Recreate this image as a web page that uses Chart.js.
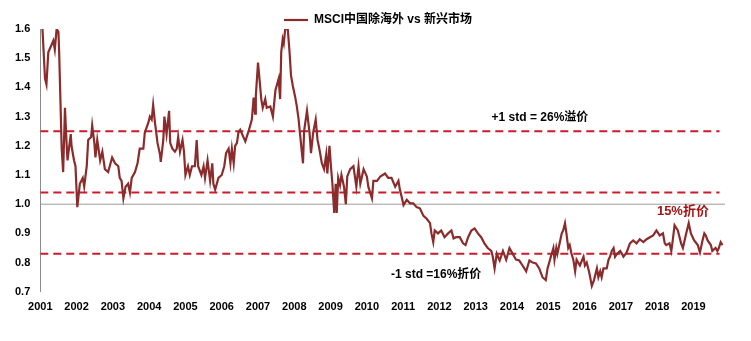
<!DOCTYPE html>
<html>
<head>
<meta charset="utf-8">
<script src="https://cdn.jsdelivr.net/npm/chart.js@4.4.1/dist/chart.umd.min.js"></script>
<style>
  html, body { margin: 0; padding: 0; background: #fff; }
  #wrap { width: 751px; height: 341px; }
</style>
</head>
<body>
<div id="wrap"><canvas id="premium-chart"></canvas></div>
<script>
// Data
const seriesName = 'MSCI中国除海外 vs 新兴市场';

const tickYears = [2001, 2002, 2003, 2004, 2005, 2006, 2007, 2008, 2009, 2010,
    2011, 2012, 2013, 2014, 2015, 2016, 2017, 2018, 2019];

const years = [
    2001.06, 2001.13, 2001.17, 2001.22, 2001.29, 2001.36, 2001.40, 2001.45, 2001.50, 2001.52,
    2001.59, 2001.63, 2001.68, 2001.72, 2001.75, 2001.84, 2001.86, 2001.93, 2001.97, 2002.02,
    2002.09, 2002.17, 2002.21, 2002.28, 2002.32, 2002.40, 2002.43, 2002.49, 2002.52, 2002.57,
    2002.65, 2002.71, 2002.78, 2002.87, 2002.98, 2003.06, 2003.15, 2003.19, 2003.24, 2003.29,
    2003.35, 2003.42, 2003.47, 2003.52, 2003.61, 2003.68, 2003.74, 2003.84, 2003.88, 2003.98,
    2004.02, 2004.07, 2004.11, 2004.16, 2004.23, 2004.30, 2004.32, 2004.39, 2004.42, 2004.48,
    2004.55, 2004.58, 2004.64, 2004.71, 2004.76, 2004.80, 2004.85, 2004.92, 2004.96, 2005.00,
    2005.07, 2005.12, 2005.18, 2005.26, 2005.31, 2005.35, 2005.44, 2005.50, 2005.54, 2005.61,
    2005.68, 2005.74, 2005.77, 2005.82, 2005.91, 2006.00, 2006.07, 2006.12, 2006.19, 2006.24,
    2006.28, 2006.33, 2006.37, 2006.42, 2006.46, 2006.51, 2006.65, 2006.74, 2006.83, 2006.88,
    2006.92, 2006.94, 2007.00, 2007.04, 2007.09, 2007.13, 2007.20, 2007.24, 2007.34, 2007.41,
    2007.48, 2007.57, 2007.61, 2007.64, 2007.68, 2007.71, 2007.75, 2007.82, 2007.87, 2007.91,
    2007.96, 2008.02, 2008.07, 2008.12, 2008.15, 2008.24, 2008.27, 2008.35, 2008.42, 2008.46,
    2008.52, 2008.59, 2008.64, 2008.69, 2008.76, 2008.82, 2008.88, 2008.91, 2008.97, 2009.01,
    2009.05, 2009.10, 2009.14, 2009.17, 2009.21, 2009.26, 2009.30, 2009.37, 2009.42, 2009.46,
    2009.54, 2009.63, 2009.71, 2009.77, 2009.82, 2009.91, 2010.00, 2010.04, 2010.14, 2010.18,
    2010.28, 2010.37, 2010.50, 2010.59, 2010.68, 2010.78, 2010.87, 2010.91, 2010.96, 2011.01,
    2011.10, 2011.19, 2011.28, 2011.37, 2011.46, 2011.56, 2011.65, 2011.74, 2011.78, 2011.83,
    2011.87, 2011.96, 2012.05, 2012.14, 2012.24, 2012.33, 2012.39, 2012.46, 2012.56, 2012.65,
    2012.72, 2012.79, 2012.88, 2012.97, 2013.06, 2013.15, 2013.24, 2013.33, 2013.43, 2013.47,
    2013.52, 2013.58, 2013.66, 2013.75, 2013.84, 2013.93, 2014.02, 2014.11, 2014.20, 2014.29,
    2014.39, 2014.48, 2014.57, 2014.66, 2014.75, 2014.84, 2014.93, 2014.98, 2015.07, 2015.14,
    2015.17, 2015.22, 2015.25, 2015.37, 2015.41, 2015.46, 2015.50, 2015.55, 2015.59, 2015.64,
    2015.69, 2015.74, 2015.78, 2015.87, 2015.97, 2016.01, 2016.06, 2016.13, 2016.20, 2016.26,
    2016.34, 2016.38, 2016.43, 2016.47, 2016.52, 2016.61, 2016.66, 2016.70, 2016.75, 2016.80,
    2016.84, 2016.89, 2016.98, 2017.03, 2017.07, 2017.16, 2017.25, 2017.34, 2017.43, 2017.52,
    2017.62, 2017.71, 2017.80, 2017.89, 2017.98, 2018.07, 2018.16, 2018.21, 2018.25, 2018.34,
    2018.39, 2018.43, 2018.48, 2018.57, 2018.66, 2018.71, 2018.80, 2018.87, 2018.93, 2019.02,
    2019.12, 2019.18, 2019.25, 2019.30, 2019.34, 2019.39, 2019.48, 2019.52, 2019.61, 2019.66,
    2019.70, 2019.75, 2019.80
];

const ratio = [
    1.60, 1.43, 1.41, 1.52, 1.54, 1.56, 1.53, 1.60, 1.59, 1.52,
    1.19, 1.11, 1.33, 1.22, 1.15, 1.24, 1.20, 1.15, 1.13, 0.99,
    1.07, 1.09, 1.06, 1.13, 1.22, 1.23, 1.27, 1.21, 1.16, 1.22,
    1.15, 1.18, 1.12, 1.11, 1.16, 1.14, 1.13, 1.09, 1.08, 1.02,
    1.06, 1.07, 1.04, 1.09, 1.11, 1.14, 1.19, 1.19, 1.245, 1.28,
    1.30, 1.29, 1.34, 1.28, 1.21, 1.17, 1.145, 1.22, 1.30, 1.24,
    1.32, 1.21, 1.19, 1.18, 1.19, 1.23, 1.18, 1.22, 1.18, 1.10,
    1.13, 1.10, 1.13, 1.13, 1.22, 1.13, 1.10, 1.13, 1.09, 1.15,
    1.08, 1.14, 1.07, 1.05, 1.09, 1.10, 1.13, 1.175, 1.19, 1.14,
    1.19, 1.14, 1.20, 1.21, 1.245, 1.255, 1.215, 1.25, 1.29, 1.365,
    1.31, 1.37, 1.485, 1.43, 1.36, 1.33, 1.36, 1.33, 1.335, 1.30,
    1.39, 1.43, 1.36, 1.52, 1.565, 1.55, 1.60, 1.60, 1.52, 1.44,
    1.405, 1.37, 1.335, 1.29, 1.25, 1.14, 1.25, 1.32, 1.245, 1.175,
    1.245, 1.29, 1.22, 1.19, 1.14, 1.12, 1.17, 1.105, 1.20, 1.13,
    1.07, 0.97, 1.07, 0.97, 1.09, 1.065, 1.10, 1.06, 1.00, 1.095,
    1.12, 1.13, 1.06, 1.13, 1.07, 1.12, 1.095, 1.06, 1.02, 1.08,
    1.08, 1.095, 1.105, 1.09, 1.09, 1.06, 1.08, 1.05, 1.025, 0.997,
    1.015, 1.003, 1.003, 0.99, 0.986, 0.96, 0.95, 0.935, 0.90, 0.87,
    0.91, 0.90, 0.91, 0.887, 0.90, 0.91, 0.883, 0.887, 0.887, 0.866,
    0.86, 0.887, 0.91, 0.917, 0.90, 0.887, 0.866, 0.85, 0.84, 0.82,
    0.78, 0.83, 0.807, 0.84, 0.81, 0.85, 0.83, 0.81, 0.807, 0.79,
    0.77, 0.807, 0.80, 0.797, 0.78, 0.75, 0.74, 0.78, 0.82, 0.85,
    0.81, 0.85, 0.83, 0.90, 0.91, 0.935, 0.90, 0.85, 0.86, 0.83,
    0.81, 0.77, 0.81, 0.79, 0.82, 0.79, 0.80, 0.765, 0.72, 0.74,
    0.78, 0.75, 0.77, 0.75, 0.78, 0.78, 0.81, 0.82, 0.84, 0.85,
    0.82, 0.83, 0.84, 0.83, 0.82, 0.835, 0.866, 0.876, 0.866, 0.88,
    0.87, 0.88, 0.887, 0.893, 0.91, 0.893, 0.90, 0.866, 0.86, 0.866,
    0.84, 0.876, 0.928, 0.91, 0.866, 0.85, 0.90, 0.935, 0.90, 0.876,
    0.86, 0.835, 0.876, 0.90, 0.893, 0.876, 0.86, 0.84, 0.85, 0.84,
    0.85, 0.87, 0.86
];

// reference levels: +1 std, mean, -1 std, parity
const plusStd = 1.25;
const meanLevel = 1.04;
const minusStd = 0.83;
const parity = 1.0;
const levelStart = 2001;
const levelEnd = 2019.72;

// text notes: [label, year, value, colour]
const notes = [
    ['+1 std = 26%溢价', 2014.77, 1.297, '#000000'],
    ['-1 std =16%折价', 2011.91, 0.759, '#000000'],
    ['15%折价', 2018.71, 0.976, '#a31515']
];

const lineColor = '#8b2c2c';
const dashColor = '#cc1b2b';
const fontFamily = '"Liberation Sans", Arial, "Noto Sans CJK SC", sans-serif';

function levelLine(value, end) {
    return [{ x: levelStart, y: value }, { x: end, y: value }];
}

// plugin that writes the text notes
const notesPlugin = {
    id: 'notes',
    afterDatasetsDraw(chart) {
        const ctx = chart.ctx;
        const xs = chart.scales.x;
        const ys = chart.scales.y;
        ctx.save();
        ctx.textAlign = 'center';
        ctx.textBaseline = 'middle';
        notes.forEach((n, i) => {
            ctx.font = 'bold ' + (i === 2 ? 13 : 12) + 'px ' + fontFamily;
            ctx.fillStyle = n[3];
            ctx.fillText(n[0], xs.getPixelForValue(n[1]), ys.getPixelForValue(n[2]));
        });
        ctx.restore();
    }
};

// legend sits close to the plot, so trim the box chart.js reserves for it
// and center it over the plot area rather than the whole canvas
const legendGap = {
    id: 'legendGap',
    beforeInit(chart) {
        const fit = chart.legend.fit;
        chart.legend.fit = function () {
            fit.bind(chart.legend)();
            this.height -= 7;
        };
    },
    afterLayout(chart) {
        chart.legend.left += 26;
    }
};

const ctx = document.getElementById('premium-chart').getContext('2d');

const chart = new Chart(ctx, {
    type: 'line',
    data: {
        datasets: [
            {
                label: seriesName,
                data: years.map((x, i) => ({ x: x, y: ratio[i] })),
                borderColor: lineColor,
                backgroundColor: lineColor,
                borderWidth: 2.2,
                pointRadius: 0,
                tension: 0,
                order: 0
            },
            {
                label: 'parity',
                data: levelLine(parity, 2019.87),
                borderColor: '#9a9a9a',
                borderWidth: 1,
                pointRadius: 0,
                order: 3
            },
            {
                label: '+1 std',
                data: levelLine(plusStd, levelEnd),
                borderColor: dashColor,
                borderWidth: 2,
                borderDash: [8, 5],
                pointRadius: 0,
                order: 2
            },
            {
                label: 'mean',
                data: levelLine(meanLevel, levelEnd),
                borderColor: dashColor,
                borderWidth: 2,
                borderDash: [8, 5],
                pointRadius: 0,
                order: 2
            },
            {
                label: '-1 std',
                data: levelLine(minusStd, levelEnd),
                borderColor: dashColor,
                borderWidth: 2,
                borderDash: [8, 5],
                pointRadius: 0,
                order: 2
            }
        ]
    },
    options: {
        responsive: true,
        maintainAspectRatio: false,
        animation: false,
        layout: {
            padding: { left: 5, right: 26, top: 12, bottom: 18 }
        },
        scales: {
            x: {
                type: 'linear',
                min: 2001,
                max: 2019.87,
                grid: { display: false, drawTicks: false },
                border: { display: false },
                afterBuildTicks: axis => {
                    axis.ticks = tickYears.map(v => ({ value: v }));
                },
                ticks: {
                    padding: 9,
                    maxRotation: 0,
                    autoSkip: false,
                    color: '#000',
                    font: { family: fontFamily, size: 11, weight: 'bold' },
                    callback: v => String(v)
                }
            },
            y: {
                min: 0.7,
                max: 1.6,
                grid: { display: false, drawTicks: false },
                border: { display: true, color: '#8a8a8a', width: 1 },
                ticks: {
                    stepSize: 0.1,
                    padding: 10,
                    color: '#000',
                    font: { family: fontFamily, size: 11, weight: 'bold' },
                    callback: v => Number(v).toFixed(1)
                }
            }
        },
        plugins: {
            legend: {
                display: true,
                position: 'top',
                labels: {
                    filter: item => item.datasetIndex === 0,
                    usePointStyle: true,
                    pointStyle: 'line',
                    pointStyleWidth: 24,
                    padding: 2,
                    color: '#000',
                    font: { family: fontFamily, size: 12, weight: 'bold' }
                }
            },
            tooltip: { enabled: false }
        }
    },
    plugins: [notesPlugin, legendGap]
});
</script>
</body>
</html>
